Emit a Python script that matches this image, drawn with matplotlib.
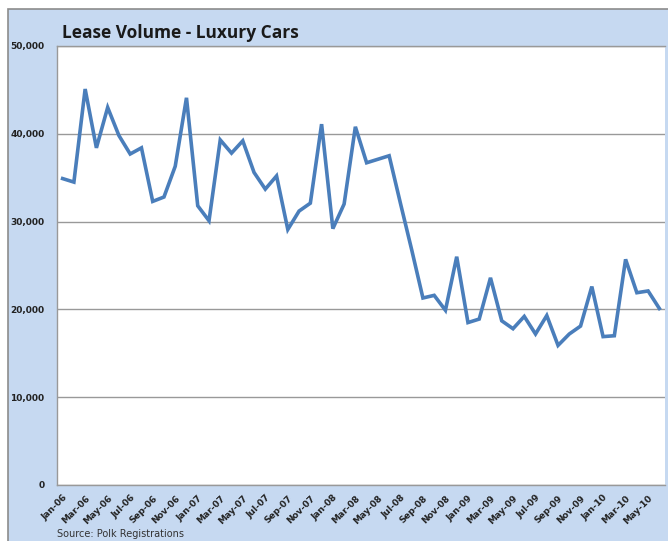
import matplotlib
matplotlib.use("Agg")
import matplotlib.pyplot as plt
from matplotlib.patches import Rectangle

# monthly lease volume, Jan-06 .. Jun-10
months = []
for yr in ["06", "07", "08", "09", "10"]:
    for m in ["Jan", "Feb", "Mar", "Apr", "May", "Jun", "Jul", "Aug", "Sep", "Oct", "Nov", "Dec"]:
        months.append(f"{m}-{yr}")
months = months[:54]

volume = [
    34900, 34500, 45100, 38400, 43000, 39800, 37700, 38400, 32300, 32800, 36300, 44100,
    31800, 30100, 39300, 37800, 39200, 35600, 33700, 35200, 29100, 31200, 32100, 41100,
    29200, 32000, 40800, 36700, 37100, 37500, 32100, 26800, 21300, 21600, 19900, 26000,
    18500, 18900, 23600, 18700, 17800, 19200, 17200, 19300, 15900, 17200, 18100, 22600,
    16900, 17000, 25700, 21900, 22100, 20100,
]

W, H = 668, 541
fig = plt.figure(figsize=(W / 100, H / 100), dpi=100)

# light blue chart area (runs off the right and bottom edges)
bg = Rectangle((8 / W, -0.05), 1.2, (H - 9) / H + 0.05, transform=fig.transFigure,
               facecolor="#C6D9F1", edgecolor="#8C8C8C", lw=1.2, zorder=-5)
fig.patches.append(bg)

ax = fig.add_axes([57 / W, (H - 485) / H, (665 - 57) / W, (485 - 46) / H])
ax.set_zorder(1)
ax.set_facecolor("white")
x = list(range(len(volume)))
ax.plot(x, volume, color="#4A7EBB", lw=2.6, solid_joinstyle="miter", zorder=3)

ax.set_xlim(-0.5, len(volume) - 0.5)
ax.set_ylim(0, 50000)
ax.set_yticks(range(0, 50001, 10000))
ax.set_yticklabels([f"{v:,}" for v in range(0, 50001, 10000)],
                   fontsize=6.5, fontweight="bold", color="#222222")
ax.yaxis.grid(True, color="#999999", lw=1.0)
ax.set_axisbelow(True)
ax.tick_params(axis="y", length=0, pad=9)

ax.set_xticks(x[::2])
ax.set_xticklabels(months[::2], rotation=45, ha="right", va="top",
                   rotation_mode="anchor", fontsize=6.5, fontweight="bold", color="#222222")
ax.tick_params(axis="x", length=0, pad=6)

ax.spines["right"].set_visible(False)
for s in ["left", "top", "bottom"]:
    ax.spines[s].set_color("#999999")
    ax.spines[s].set_linewidth(1.0)

fig.text(62 / W, (H - 33) / H, "Lease Volume - Luxury Cars", fontsize=12.5,
         fontweight="bold", family="Open Sans", color="#1A1A1A", va="center", ha="left")
fig.text(57 / W, (H - 539) / H, "Source: Polk Registrations", fontsize=7,
         color="#333333", va="bottom", ha="left")

fig.savefig("out.png", dpi=100)
